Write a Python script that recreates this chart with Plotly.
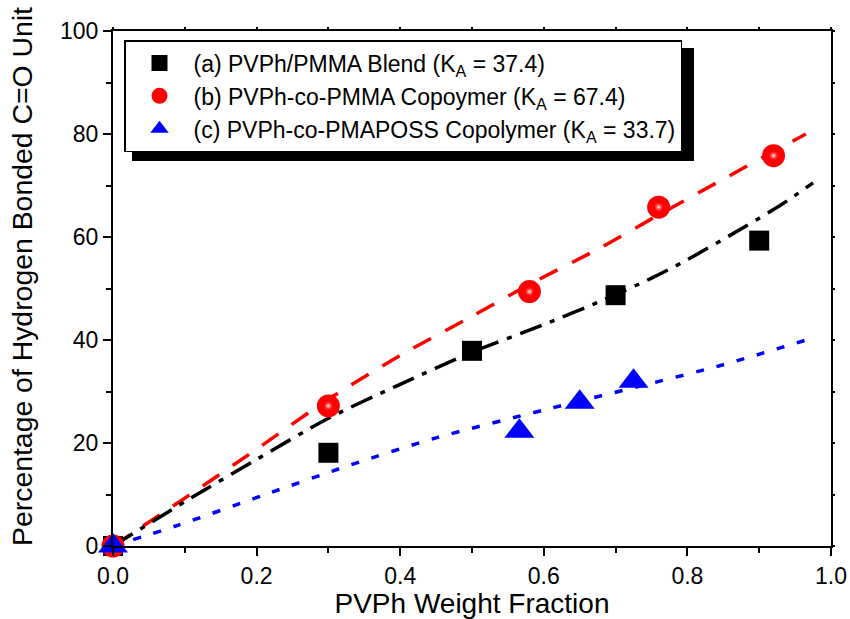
import plotly.graph_objects as go

# Measured points
blend_x = [0.0, 0.30, 0.50, 0.70, 0.90]
blend_y = [0.0, 18.1, 37.9, 48.7, 59.3]

pmma_x = [0.0, 0.30, 0.58, 0.76, 0.92]
pmma_y = [0.0, 27.2, 49.4, 65.8, 75.8]

poss_x = [0.0, 0.566, 0.650, 0.725]
poss_y = [0.0, 22.3, 27.9, 32.0]

# Model curves
blend_fit_x = [0.0, 0.10, 0.20, 0.30, 0.40, 0.50, 0.60, 0.68, 0.75, 0.80, 0.88, 0.93, 0.975]
blend_fit_y = [0.0, 8.6, 16.8, 24.8, 31.4, 37.6, 43.0, 47.6, 52.0, 55.6, 62.0, 66.2, 70.5]

pmma_fit_x = [0.0, 0.10, 0.20, 0.30, 0.40, 0.50, 0.58, 0.68, 0.76, 0.86, 0.92, 0.965]
pmma_fit_y = [0.0, 9.3, 18.8, 28.5, 37.0, 44.6, 50.8, 58.0, 64.3, 72.0, 76.6, 80.0]

poss_fit_x = [0.0, 0.09, 0.21, 0.33, 0.45, 0.60, 0.75, 0.85, 0.97]
poss_fit_y = [0.0, 4.0, 9.9, 15.7, 21.0, 26.4, 31.6, 35.2, 40.2]

labels = [
    "(a) PVPh/PMMA Blend (K<sub>A</sub> = 37.4)",
    "(b) PVPh-co-PMMA Copoymer (K<sub>A</sub> = 67.4)",
    "(c) PVPh-co-PMAPOSS Copolymer (K<sub>A</sub> = 33.7)",
]
y_title = "Percentage of Hydrogen Bonded C=O Unit"
x_title = "PVPh Weight Fraction"

FONT = "Arial, Liberation Sans, sans-serif"
W, H = 850, 619
ML, MR, MT, MB = 113, 19, 31, 73
PW, PH = W - ML - MR, H - MT - MB

fig = go.Figure()

# fitted lines
fig.add_trace(go.Scatter(x=pmma_fit_x, y=pmma_fit_y, mode="lines", showlegend=False,
                         line=dict(color="#ff0000", width=3.5, dash="20px,16px",
                                   shape="spline", smoothing=0.8)))
fig.add_trace(go.Scatter(x=blend_fit_x, y=blend_fit_y, mode="lines", showlegend=False,
                         line=dict(color="#000000", width=3.5, dash="23px,9px,5px,9px",
                                   shape="spline", smoothing=0.8)))
fig.add_trace(go.Scatter(x=poss_fit_x, y=poss_fit_y, mode="lines", showlegend=False,
                         line=dict(color="#0000ff", width=3.5, dash="8px,13px",
                                   shape="spline", smoothing=0.8)))

# experimental points
fig.add_trace(go.Scatter(x=blend_x, y=blend_y, mode="markers", name=labels[0],
                         legendgroup="a", cliponaxis=False,
                         marker=dict(symbol="square", size=20, color="#000000",
                                     line=dict(width=0))))
fig.add_trace(go.Scatter(x=pmma_x, y=pmma_y, mode="markers", name=labels[1],
                         legendgroup="b", cliponaxis=False,
                         marker=dict(symbol="circle", size=23, color="#ff0000",
                                     line=dict(width=0))))
# glossy highlight on the spheres
fig.add_trace(go.Scatter(x=pmma_x, y=pmma_y, mode="markers", showlegend=False,
                         cliponaxis=False, hoverinfo="skip",
                         marker=dict(symbol="circle", size=11, color="rgba(255,0,0,0)",
                                     gradient=dict(type="radial", color="#ffffff"),
                                     line=dict(width=0))))
fig.add_trace(go.Scatter(x=poss_x, y=poss_y, mode="markers", name=labels[2],
                         legendgroup="c", cliponaxis=False,
                         marker=dict(symbol="triangle-up", size=26, color="#0000ff",
                                     line=dict(width=0))))

# pixel -> paper helpers
def px_x(p):
    return (p - ML) / PW

def px_y(p):
    return (H - MB - p) / PH

# legend drop shadow
fig.add_shape(type="rect", xref="paper", yref="paper",
              x0=px_x(132), x1=px_x(694), y0=px_y(161), y1=px_y(48),
              fillcolor="#000000", line=dict(width=0), layer="above")

# vertical axis title
fig.add_annotation(text=y_title, xref="paper", yref="paper", x=px_x(22), y=px_y(277),
                   xanchor="center", yanchor="middle", textangle=-90, showarrow=False,
                   font=dict(family=FONT, size=28.4, color="#000000"))

axis_common = dict(showgrid=False, zeroline=False, linecolor="#000000", linewidth=2,
                   tickcolor="#000000", tickwidth=1.5, ticks="outside", automargin=False,
                   tickfont=dict(family=FONT, size=23, color="#000000"))

fig.update_layout(
    width=W, height=H,
    margin=dict(l=ML, r=MR, t=MT, b=MB, autoexpand=False),
    paper_bgcolor="#ffffff", plot_bgcolor="#ffffff",
    font=dict(family=FONT, color="#000000"),
    xaxis=dict(range=[0, 1.0], tickvals=[0, 0.2, 0.4, 0.6, 0.8, 1.0],
               ticktext=["0.0", "0.2", "0.4", "0.6", "0.8", "1.0"], ticklen=8,
               minor=dict(dtick=0.1, ticklen=5, tickwidth=1.5, tickcolor="#000000",
                          ticks="outside"),
               showline=True, mirror=True,
               title=dict(text=x_title, standoff=6,
                          font=dict(family=FONT, size=28, color="#000000")),
               **axis_common),
    yaxis=dict(range=[0, 100], tickvals=[0, 20, 40, 60, 80, 100], ticklen=8,
               minor=dict(dtick=10, ticklen=5, tickwidth=1.5, tickcolor="#000000",
                          ticks="outside"),
               showline=True, mirror=True,
               **axis_common),
    yaxis2=dict(range=[0, 100], overlaying="y", side="right", dtick=10, ticks="outside",
                ticklen=3, tickwidth=1.5, tickcolor="#000000", showticklabels=False,
                showgrid=False, zeroline=False, showline=False, automargin=False),
    xaxis2=dict(range=[0, 1.0], overlaying="x", side="top", dtick=0.1, ticks="outside",
                ticklen=3, tickwidth=1.5, tickcolor="#000000", showticklabels=False,
                showgrid=False, zeroline=False, showline=False, automargin=False),
    legend=dict(x=px_x(124), y=px_y(40), xanchor="left", yanchor="top",
                bgcolor="#ffffff", bordercolor="#000000", borderwidth=1.5,
                font=dict(family=FONT, size=23, color="#000000"),
                itemwidth=58, tracegroupgap=0, itemsizing="trace"),
)

# attach the secondary axes so their ticks are drawn
fig.add_trace(go.Scatter(x=[None], y=[None], xaxis="x2", yaxis="y2",
                         showlegend=False, hoverinfo="skip"))

fig.write_html("out.html")
